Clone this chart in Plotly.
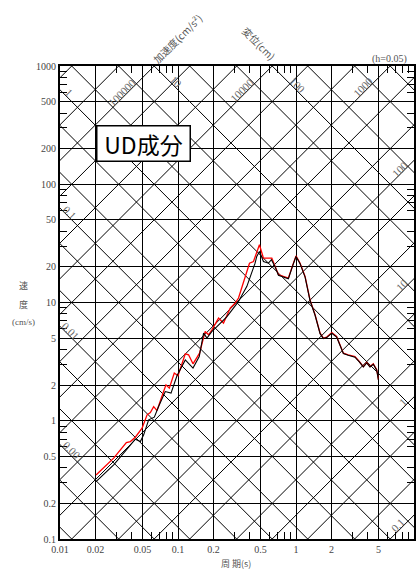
import math
import plotly.graph_objects as go

# period / velocity axis ticks
X_TICKS = [0.01, 0.02, 0.05, 0.1, 0.2, 0.5, 1, 2, 5, 10]
Y_TICKS = [0.1, 0.2, 0.5, 1, 2, 5, 10, 20, 50, 100, 200, 500, 1000]

# diagonal scales: displacement (cm) and acceleration (cm/s2)
D_LINES = [m * 10 ** k for k in range(-5, 5) for m in (1, 2, 5)]
A_LINES = [m * 10 ** k for k in range(-2, 8) for m in (1, 2, 5)]

# labels on the diagonals: (text, value, period where it sits)
D_LABELS = [("1", 1, 0.01114), ("0.1", 0.1, 0.01156), ("0.01", 0.01, 0.01156),
            ("0.001", 0.001, 0.01227), ("10", 10, 0.0912), ("100", 100, 0.964)]
A_LABELS = [("100000", 1e5, 0.0358), ("10000", 1e4, 0.371), ("1000", 1000, 3.92),
            ("100", 100, 8.05), ("10", 10, 8.37), ("1", 1, 8.53), ("0.1", 0.1, 7.74)]

# spectra (period s, velocity cm/s)
T_RED = [0.0202, 0.0285, 0.0365, 0.0395, 0.0435, 0.0496, 0.0547, 0.0583, 0.0622, 0.0664,
         0.0755, 0.0791, 0.0844, 0.0930, 0.100, 0.1153, 0.1229, 0.134, 0.1523, 0.170,
         0.1815, 0.194, 0.2206, 0.2431, 0.277, 0.3053, 0.3257, 0.371, 0.4035, 0.436,
         0.457, 0.490, 0.530, 0.584, 0.624, 0.666, 0.710, 0.782, 0.862, 0.94,
         1.0, 1.083, 1.194, 1.315, 1.451, 1.60, 1.705, 1.822, 2.01, 2.21,
         2.44, 2.52, 2.77, 3.16, 3.44, 3.72, 3.97, 4.24, 4.52, 4.83, 5.0]
SV_RED = [0.348, 0.483, 0.654, 0.667, 0.726, 0.865, 1.122, 1.173, 1.318, 1.219,
          1.766, 2.013, 1.888, 2.53, 2.40, 3.68, 3.61, 3.03, 3.73, 5.69,
          5.33, 5.87, 7.38, 6.70, 8.97, 9.89, 10.9, 16.6, 21.5, 22.2,
          25.3, 30.8, 23.7, 23.7, 23.7, 20.2, 17.2, 16.6, 16.1, 20.8,
          24.8, 21.5, 16.6, 10.5, 7.87, 5.51, 5.0, 5.10, 5.57, 5.16,
          3.98, 3.73, 3.61, 3.49, 3.17, 2.87, 3.11, 2.87, 3.03, 2.70, 2.22]

T_BLK = [0.0202, 0.0285, 0.0365, 0.0435, 0.048, 0.0512, 0.0564, 0.063, 0.0685, 0.078,
         0.0873, 0.098, 0.1153, 0.134, 0.1514, 0.1647, 0.176, 0.194, 0.2138, 0.26,
         0.295, 0.3257, 0.3835, 0.431, 0.450, 0.465, 0.490, 0.530, 0.584, 0.619,
         0.666, 0.710, 0.782, 0.862, 0.94, 1.0, 1.083, 1.194, 1.315, 1.451,
         1.60, 1.705, 1.822, 2.01, 2.21, 2.44, 2.52, 2.77, 3.16, 3.44,
         3.72, 3.97, 4.24, 4.52, 4.83, 5.0]
SV_BLK = [0.306, 0.424, 0.567, 0.698, 0.667, 0.760, 1.018, 1.072, 1.318, 1.766,
          1.713, 2.40, 3.27, 2.79, 3.49, 5.51, 5.0, 5.69, 6.26, 7.61,
          8.97, 10.2, 13.7, 18.9, 21.5, 24.5, 27.0, 22.2, 21.5, 23.0,
          20.0, 17.0, 16.4, 15.9, 20.6, 24.5, 21.3, 16.4, 10.4, 7.8,
          5.45, 4.95, 5.05, 5.5, 5.1, 3.95, 3.7, 3.58, 3.45, 3.15,
          2.85, 3.08, 2.85, 3.0, 2.68, 2.2]

TWO_PI = 2 * math.pi
SERIF = "Liberation Serif"
JP = "Noto Sans CJK JP"

fig = go.Figure()

# diagonal grid
xs, ys = [], []
for d in D_LINES:
    xs += [0.001, 100, None]
    ys += [TWO_PI * d / 0.001, TWO_PI * d / 100, None]
for a in A_LINES:
    xs += [0.001, 100, None]
    ys += [a * 0.001 / TWO_PI, a * 100 / TWO_PI, None]
fig.add_trace(go.Scatter(x=xs, y=ys, mode="lines", line=dict(color="black", width=1),
                         hoverinfo="skip", showlegend=False))

fig.add_trace(go.Scatter(x=T_RED, y=SV_RED, mode="lines",
                         line=dict(color="#ff0000", width=1.3), showlegend=False))
fig.add_trace(go.Scatter(x=T_BLK, y=SV_BLK, mode="lines",
                         line=dict(color="black", width=1.1), showlegend=False))

anns = []
for txt, d, t in D_LABELS:
    anns.append(dict(x=math.log10(t), y=math.log10(TWO_PI * d / t), text=txt, textangle=45,
                     showarrow=False, xshift=3, yshift=3, font=dict(family=SERIF, size=11, color="#666")))
for txt, a, t in A_LABELS:
    anns.append(dict(x=math.log10(t), y=math.log10(a * t / TWO_PI), text=txt, textangle=-45,
                     showarrow=False, xshift=-3, yshift=3, font=dict(family=SERIF, size=11, color="#666")))


def px(x, y):
    # pixel position -> paper coords
    return (x - 59.5) / 355.0, (539 - y) / 473.0


def add_text(x, y, text, size=10, family=SERIF, angle=0, xanchor="center"):
    u, v = px(x, y)
    anns.append(dict(x=u, y=v, xref="paper", yref="paper", text=text, showarrow=False,
                     xanchor=xanchor, yanchor="middle", textangle=angle,
                     font=dict(family=family, size=size, color="#555")))


add_text(177, 38, "加速度(cm/s²)", size=10, family=JP, angle=-45)
add_text(259, 44, "変位(cm)", size=10, family=JP, angle=45)
add_text(409, 59, "(h=0.05)", size=10, xanchor="right")
add_text(23, 285, "速", size=9, family=JP)
add_text(23, 304, "度", size=9, family=JP)
add_text(23, 322, "(cm/s)", size=9)
add_text(236, 563, "周 期(s)", size=9, family=JP)

u, v = px(143.5, 143.5)
anns.append(dict(x=u, y=v, xref="paper", yref="paper", text="UD成分", showarrow=False,
                 xanchor="center", yanchor="middle",
                 font=dict(family=JP, size=23, color="black"), bgcolor="white",
                 bordercolor="black", borderwidth=1.5, borderpad=0, width=92, height=34))


def minor_vals(start, stop):
    vals = []
    for k in range(start, stop):
        vals += [m * 10 ** k for m in (3, 4, 6, 7, 8, 9)]
    return vals


axis_common = dict(type="log", showgrid=True, gridcolor="black", gridwidth=1,
                   showline=True, linecolor="black", linewidth=2, mirror="ticks",
                   ticks="", zeroline=False, automargin=False,
                   tickfont=dict(family=SERIF, size=10, color="#444"))

fig.update_xaxes(range=[-2, 1], tickvals=X_TICKS, ticktext=[str(v) for v in X_TICKS],
                 minor=dict(tickvals=minor_vals(-2, 1), ticks="inside", ticklen=7,
                            tickcolor="black", showgrid=False),
                 **axis_common)
fig.update_yaxes(range=[-1, 3], tickvals=Y_TICKS, ticktext=[str(v) for v in Y_TICKS],
                 minor=dict(tickvals=minor_vals(-1, 3), ticks="inside", ticklen=7,
                            tickcolor="black", showgrid=False),
                 **axis_common)

fig.update_layout(width=417, height=569, margin=dict(l=59.5, r=2.5, t=66, b=30),
                  plot_bgcolor="white", paper_bgcolor="white", annotations=anns,
                  showlegend=False)

# drop the page's default body margin so the figure sits at the window corner
fig.write_html("out.html", config={"displayModeBar": False},
               post_script="document.body.style.margin = '0';")
